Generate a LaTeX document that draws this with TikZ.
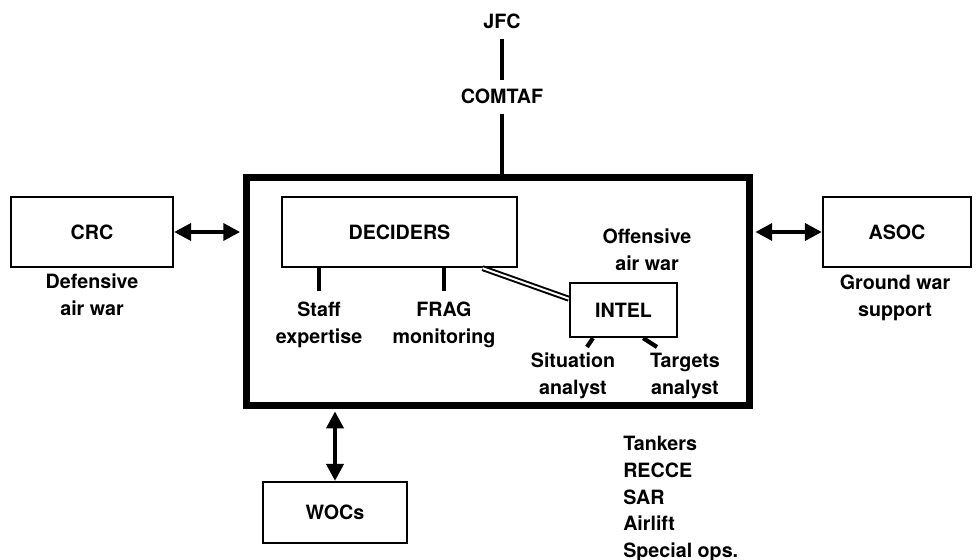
\documentclass[tikz,border=0pt]{standalone}
\usepackage{fontspec}
\setmainfont{TeX Gyre Heros}
\usetikzlibrary{calc,arrows.meta}
\tikzset{
	box/.style={draw, line width=1.6pt, inner sep=0pt, font=\fontsize{14}{19}\selectfont\bfseries},
	lbl/.style={inner sep=0pt, align=center, font=\fontsize{14}{19}\selectfont\bfseries},
	stub/.style={line width=3pt},
	link/.style={line width=2.8pt, {Triangle[length=12pt,width=12pt]}-{Triangle[length=12pt,width=12pt]}}
}

\begin{document}
\begin{tikzpicture}[x=0.025cm, y=-0.025cm]
		%%%%% START %%%%%
		\useasboundingbox (0,0) rectangle (976,560);
		
		\node[lbl] (jfc) at (502, 21) {JFC};
		\node[lbl] (comtaf) at (502, 96) {COMTAF};
		\node[box, line width=5pt, minimum width=12.56cm, minimum height=5.69cm] (tacc) at (497.75, 291.25) {};
		
		\draw[stub, shorten <=7pt, shorten >=6pt] (jfc.south) -- (comtaf.north);
		\draw[stub, shorten <=7pt] (comtaf.south) -- (comtaf.south |- tacc.north);
		
		\node[box, minimum width=4.05cm, minimum height=1.75cm] (crc) at (92, 232) {CRC};
		\node[lbl] (defensive) at (92, 295) {Defensive\\air war};
		\node[box, minimum width=3.7cm, minimum height=1.75cm] (asoc) at (897, 232) {ASOC};
		\node[lbl] (ground) at (895, 298) {Ground war\\support};
		
		\draw[link, shorten >=2pt] (crc.east) -- (crc.east -| tacc.west);
		\draw[link, shorten <=2pt] (tacc.east |- asoc.west) -- (asoc.west);
		
		\node[box, minimum width=5.875cm, minimum height=1.75cm] (deciders) at (399.5, 232) {DECIDERS};
		\node[lbl] (staff) at (319, 325) {Staff\\expertise};
		\node[lbl] (frag) at (444, 325) {FRAG\\monitoring};
		\draw[stub, shorten >=8pt] (deciders.south -| staff.north) -- (staff.north);
		\draw[stub, shorten >=8pt] (deciders.south -| frag.north) -- (frag.north);
		
		\node[lbl] (offensive) at (647, 250) {Offensive\\air war};
		
		\node[box, minimum width=2.675cm, minimum height=1.35cm] (intel) at (623.5, 310) {INTEL};
		\draw[double, line width=1.4pt, double distance=1.4pt] ($(deciders.south east)!0.15!(deciders.south west)$) -- ($(intel.north west)!0.3!(intel.south west)$);
		
		\node[lbl] (situation) at (573, 376) {Situation\\analyst};
		\node[lbl] (targets) at (685, 376) {Targets\\analyst};
		\coordinate (sitend) at (587, 347);
		\coordinate (tgtend) at (657, 347);
		\draw[stub] ($(intel.south west)!0.22!(intel.south east)$) -- (sitend);
		\draw[stub] ($(intel.south west)!0.68!(intel.south east)$) -- (tgtend);
		
		\node[box, minimum width=3.6cm, minimum height=1.525cm] (wocs) at (335, 512.5) {WOCs};
		\draw[link, shorten <=2pt] (tacc.south -| wocs.north) -- (wocs.north);
		
		\node[lbl, align=left, anchor=north west] (others) at (623, 436) {Tankers\\RECCE\\SAR\\Airlift\\Special ops.};
		
		%%%%% END %%%%%
\end{tikzpicture}
\end{document}
